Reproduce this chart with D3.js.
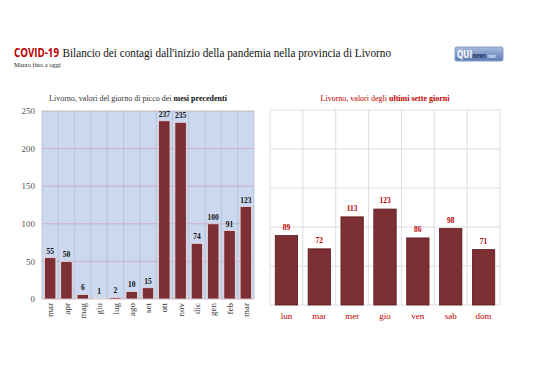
<!DOCTYPE html>
<meta charset="utf-8">
<style>
body { margin: 0; background: #fff; }
svg text { font-family: "Liberation Serif", "DejaVu Serif", serif; }
.sans { font-family: "Open Sans", "Liberation Sans", sans-serif !important; }
</style>
<body>
<script src="https://d3js.org/d3.v7.min.js"></script>
<div id="chart"></div>
<script>

// monthly peak values (left chart)
var months = ["mar", "apr", "mag", "giu", "lug", "ago", "set", "ott", "nov", "dic", "gen", "feb", "mar2"];
var monthLabels = ["mar", "apr", "mag", "giu", "lug", "ago", "set", "ott", "nov", "dic", "gen", "feb", "mar"];
var monthValues = [55, 50, 6, 1, 2, 10, 15, 237, 235, 74, 100, 91, 123];

// last seven days (right chart)
var days = ["lun", "mar", "mer", "gio", "ven", "sab", "dom"];
var dayValues = [89, 72, 113, 123, 86, 98, 71];

var yTicks = [0, 50, 100, 150, 200, 250];

var W = 538, H = 380;
var barColor = "#7c3034";
var red = "#c00000";

var svg = d3.select("#chart").append("svg")
  .attr("width", W)
  .attr("height", H);

// title (sans part squeezed horizontally, Calibri-like)
var squeeze = 0.78;
var covid = svg.append("text")
  .attr("class", "sans")
  .attr("transform", "translate(14,57) scale(" + squeeze + ",1)")
  .style("font-weight", "bold")
  .style("font-size", "12.5px")
  .style("fill", red)
  .text("COVID-19");
var covidW = covid.node().getComputedTextLength() * squeeze;
svg.append("text")
  .attr("x", 14 + covidW + 3.5)
  .attr("y", 57)
  .attr("textLength", 391 - (14 + covidW + 3.5))
  .attr("lengthAdjust", "spacingAndGlyphs")
  .style("font-size", "12.5px")
  .style("fill", "#111")
  .text("Bilancio dei contagi dall'inizio della pandemia nella provincia di Livorno");

svg.append("text")
  .attr("x", 14)
  .attr("y", 67)
  .style("font-size", "6.5px")
  .style("fill", "#222")
  .text("Marzo fino a oggi");

// logo
var grad = svg.append("defs").append("linearGradient")
  .attr("id", "logoGrad")
  .attr("x1", 0).attr("y1", 0).attr("x2", 0).attr("y2", 1);
grad.append("stop").attr("offset", "0%").attr("stop-color", "#a9bde0");
grad.append("stop").attr("offset", "100%").attr("stop-color", "#5a7ab0");
svg.append("rect")
  .attr("x", 455).attr("y", 47)
  .attr("width", 48).attr("height", 14)
  .attr("rx", 1.5)
  .attr("fill", "url(#logoGrad)")
  .attr("stroke", "#8aa0c6");
var logoParts = [
  { t: "QUI", size: 10, color: "#fff" },
  { t: "news", size: 6.5, color: "#1d2f5c" },
  { t: ".net", size: 6, color: "#d5e0f2" }
];
var lx = 457;
logoParts.forEach(function(p) {
  var t = svg.append("text")
    .attr("class", "sans")
    .attr("transform", "translate(" + lx + ",58) scale(0.8,1)")
    .style("font-weight", "bold")
    .style("font-size", p.size + "px")
    .style("fill", p.color)
    .text(p.t);
  lx += t.node().getComputedTextLength() * 0.8 + 0.5;
});

// ---------- LEFT CHART ----------
var L = { left: 42, right: 254, top: 111, bottom: 299 };

var x1 = d3.scaleBand()
  .domain(months)
  .range([L.left, L.right])
  .paddingInner(0.3)
  .paddingOuter(0.15);

var y1 = d3.scaleLinear()
  .domain([0, 250])
  .range([L.bottom, L.top]);

var left = svg.append("g");

left.append("rect")
  .attr("x", L.left).attr("y", L.top)
  .attr("width", L.right - L.left).attr("height", L.bottom - L.top)
  .attr("fill", "#cbd8ef");

// vertical grid at category boundaries
var step1 = x1.step();
left.selectAll(".vgrid")
  .data(d3.range(months.length + 1))
  .enter().append("line")
  .attr("x1", function(i) { return L.left + i * step1; })
  .attr("x2", function(i) { return L.left + i * step1; })
  .attr("y1", L.top).attr("y2", L.bottom)
  .attr("stroke", "#b7bfd2")
  .attr("stroke-width", 0.8);

left.selectAll(".hgrid")
  .data(yTicks)
  .enter().append("line")
  .attr("x1", L.left).attr("x2", L.right)
  .attr("y1", function(d) { return y1(d); })
  .attr("y2", function(d) { return y1(d); })
  .attr("stroke", "#c9a8b4")
  .attr("stroke-width", 0.8);

left.selectAll(".ylab")
  .data(yTicks)
  .enter().append("text")
  .attr("x", 35)
  .attr("y", function(d) { return y1(d); })
  .attr("dy", "0.35em")
  .attr("text-anchor", "end")
  .style("font-size", "9px")
  .style("fill", "#555")
  .text(function(d) { return d; });

left.selectAll(".bar")
  .data(monthValues)
  .enter().append("rect")
  .attr("x", function(d, i) { return x1(months[i]); })
  .attr("y", function(d) { return y1(d); })
  .attr("width", x1.bandwidth())
  .attr("height", function(d) { return L.bottom - y1(d); })
  .attr("fill", barColor)
  .attr("stroke", "#eadde2")
  .attr("stroke-width", 0.8);

left.selectAll(".val")
  .data(monthValues)
  .enter().append("text")
  .attr("x", function(d, i) { return x1(months[i]) + x1.bandwidth() / 2; })
  .attr("y", function(d) { return y1(d) - 4; })
  .attr("text-anchor", "middle")
  .style("font-size", "7.5px")
  .style("font-weight", "bold")
  .style("fill", "#111")
  .text(function(d) { return d; });

left.selectAll(".xlab")
  .data(months)
  .enter().append("text")
  .attr("transform", function(d) {
    return "translate(" + (x1(d) + x1.bandwidth() / 2) + "," + (L.bottom + 4) + ") rotate(-90)";
  })
  .attr("text-anchor", "end")
  .attr("dy", "0.35em")
  .style("font-size", "9px")
  .style("fill", "#333")
  .text(function(d, i) { return monthLabels[i]; });

var st1 = svg.append("text")
  .attr("x", 138)
  .attr("y", 101)
  .attr("text-anchor", "middle")
  .style("font-size", "8px")
  .style("fill", "#333");
st1.append("tspan").text("Livorno, valori del giorno di picco dei ");
st1.append("tspan").style("font-weight", "bold").style("fill", "#111").text("mesi precedenti");

// ---------- RIGHT CHART ----------
var R = { left: 270, right: 500, top: 110, bottom: 305 };

var x2 = d3.scaleBand()
  .domain(days)
  .range([R.left, R.right])
  .paddingInner(0.32)
  .paddingOuter(0.16);

var y2 = d3.scaleLinear()
  .domain([0, 250])
  .range([R.bottom, R.top]);

var right = svg.append("g");

var step2 = x2.step();
right.selectAll(".vgrid")
  .data(d3.range(days.length + 1))
  .enter().append("line")
  .attr("x1", function(i) { return R.left + i * step2; })
  .attr("x2", function(i) { return R.left + i * step2; })
  .attr("y1", R.top).attr("y2", R.bottom)
  .attr("stroke", "#d6d6d6")
  .attr("stroke-width", 0.8);

right.selectAll(".hgrid")
  .data(yTicks)
  .enter().append("line")
  .attr("x1", R.left).attr("x2", R.right)
  .attr("y1", function(d) { return y2(d); })
  .attr("y2", function(d) { return y2(d); })
  .attr("stroke", "#d6d6d6")
  .attr("stroke-width", 0.8);

right.selectAll(".bar")
  .data(dayValues)
  .enter().append("rect")
  .attr("x", function(d, i) { return x2(days[i]); })
  .attr("y", function(d) { return y2(d); })
  .attr("width", x2.bandwidth())
  .attr("height", function(d) { return R.bottom - y2(d); })
  .attr("fill", barColor)
  .attr("stroke", "#5a1a1d")
  .attr("stroke-width", 0.8);

right.selectAll(".val")
  .data(dayValues)
  .enter().append("text")
  .attr("x", function(d, i) { return x2(days[i]) + x2.bandwidth() / 2; })
  .attr("y", function(d) { return y2(d) - 6; })
  .attr("text-anchor", "middle")
  .style("font-size", "7.5px")
  .style("font-weight", "bold")
  .style("fill", red)
  .text(function(d) { return d; });

right.selectAll(".xlab")
  .data(days)
  .enter().append("text")
  .attr("x", function(d) { return x2(d) + x2.bandwidth() / 2; })
  .attr("y", R.bottom + 14)
  .attr("text-anchor", "middle")
  .style("font-size", "9px")
  .style("fill", red)
  .text(function(d) { return d; });

var st2 = svg.append("text")
  .attr("x", 385)
  .attr("y", 101)
  .attr("text-anchor", "middle")
  .style("font-size", "8px")
  .style("fill", red);
st2.append("tspan").text("Livorno, valori degli ");
st2.append("tspan").style("font-weight", "bold").text("ultimi sette giorni");

</script>
